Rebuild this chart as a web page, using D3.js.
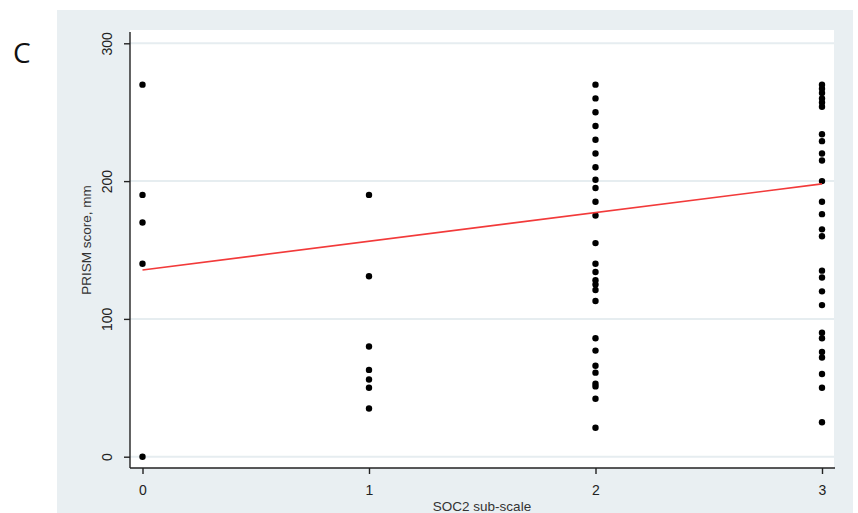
<!DOCTYPE html>
<html><head><meta charset="utf-8">
<script src="https://cdn.jsdelivr.net/npm/d3@7"></script>
<style>body{margin:0;background:#fff}svg{display:block}</style>
</head><body><svg id="c" width="858" height="513"></svg>
<script>
const xTicks = [0, 1, 2, 3];
const yTicks = [0, 100, 200, 300];
const scoresAt0 = [270, 190, 170, 140, 0];
const scoresAt1 = [190, 131, 80, 63, 56, 50, 35];
const scoresAt2 = [270, 260, 250, 240, 230, 220, 210, 201, 195, 185, 175, 155, 140, 134, 128, 125, 121, 113, 86, 77, 66, 61, 53, 51, 42, 21];
const scoresAt3 = [270, 267, 264, 260, 257, 254, 234, 229, 220, 215, 200, 185, 176, 165, 160, 135, 130, 120, 110, 90, 86, 76, 72, 60, 50, 25];
const fitX = [0, 3];
const fitY = [135.5, 198];

const svg = d3.select("#c");
const font = "'Liberation Sans', Arial, sans-serif";
svg.append("rect").attr("x",57).attr("y",10).attr("width",796).attr("height",503).attr("fill","#e9eff2");
svg.append("rect").attr("x",130).attr("y",30).attr("width",704).attr("height",438).attr("fill","#fff");

const x = d3.scaleLinear().domain([0,3]).range([142.5,822]);
const y = d3.scaleLinear().domain([0,300]).range([456.7,43.3]);

svg.append("g").selectAll("line").data(yTicks).join("line")
  .attr("x1",130).attr("x2",834).attr("y1",d=>y(d)).attr("y2",d=>y(d))
  .attr("stroke","#e6edf0").attr("stroke-width",2);

const yAxis = svg.append("g").attr("transform","translate(130,0)")
  .call(d3.axisLeft(y).tickValues(yTicks).tickSize(6).tickPadding(0).tickFormat(d3.format("d")));
yAxis.select(".domain").attr("d","M0,32V468").attr("stroke","#222").attr("stroke-width",1.4);
yAxis.selectAll(".tick line").attr("stroke","#222").attr("stroke-width",1.4);
yAxis.selectAll(".tick text").attr("transform","translate(-23,0) rotate(-90)").attr("x",0).attr("dy","0.35em")
  .attr("text-anchor","middle").attr("font-family",font).attr("font-size",14).attr("fill","#222");

const xAxis = svg.append("g").attr("transform","translate(0,468)")
  .call(d3.axisBottom(x).tickValues(xTicks).tickSize(6).tickPadding(11).tickFormat(d3.format("d")));
xAxis.select(".domain").attr("d","M130,0H835").attr("stroke","#222").attr("stroke-width",1.4);
xAxis.selectAll(".tick line").attr("stroke","#222").attr("stroke-width",1.4);
xAxis.selectAll(".tick text").attr("font-family",font).attr("font-size",14).attr("fill","#222");

svg.append("text").attr("x",482).attr("y",511).attr("text-anchor","middle")
  .attr("font-family",font).attr("font-size",13.5).attr("fill","#333").text("SOC2 sub-scale");
svg.append("text").attr("transform","translate(91,240) rotate(-90)").attr("text-anchor","middle")
  .attr("font-family",font).attr("font-size",13.5).attr("fill","#333").text("PRISM score, mm");
svg.append("text").attr("x",13).attr("y",63).attr("font-family","'Open Sans', sans-serif")
  .attr("font-size",28).attr("fill","#111").text("C");

const pts = [];
[scoresAt0, scoresAt1, scoresAt2, scoresAt3].forEach((arr,i)=>arr.forEach(v=>pts.push([xTicks[i],v])));
svg.append("g").selectAll("circle").data(pts).join("circle")
  .attr("cx",d=>x(d[0])).attr("cy",d=>y(d[1])).attr("r",3.2)
  .attr("fill","#000");

svg.append("path").datum(fitX.map((v,i)=>[v,fitY[i]]))
  .attr("d", d3.line().x(d=>x(d[0])).y(d=>y(d[1])))
  .attr("stroke","#f23a3a").attr("stroke-width",1.6).attr("fill","none");
</script></body></html>
